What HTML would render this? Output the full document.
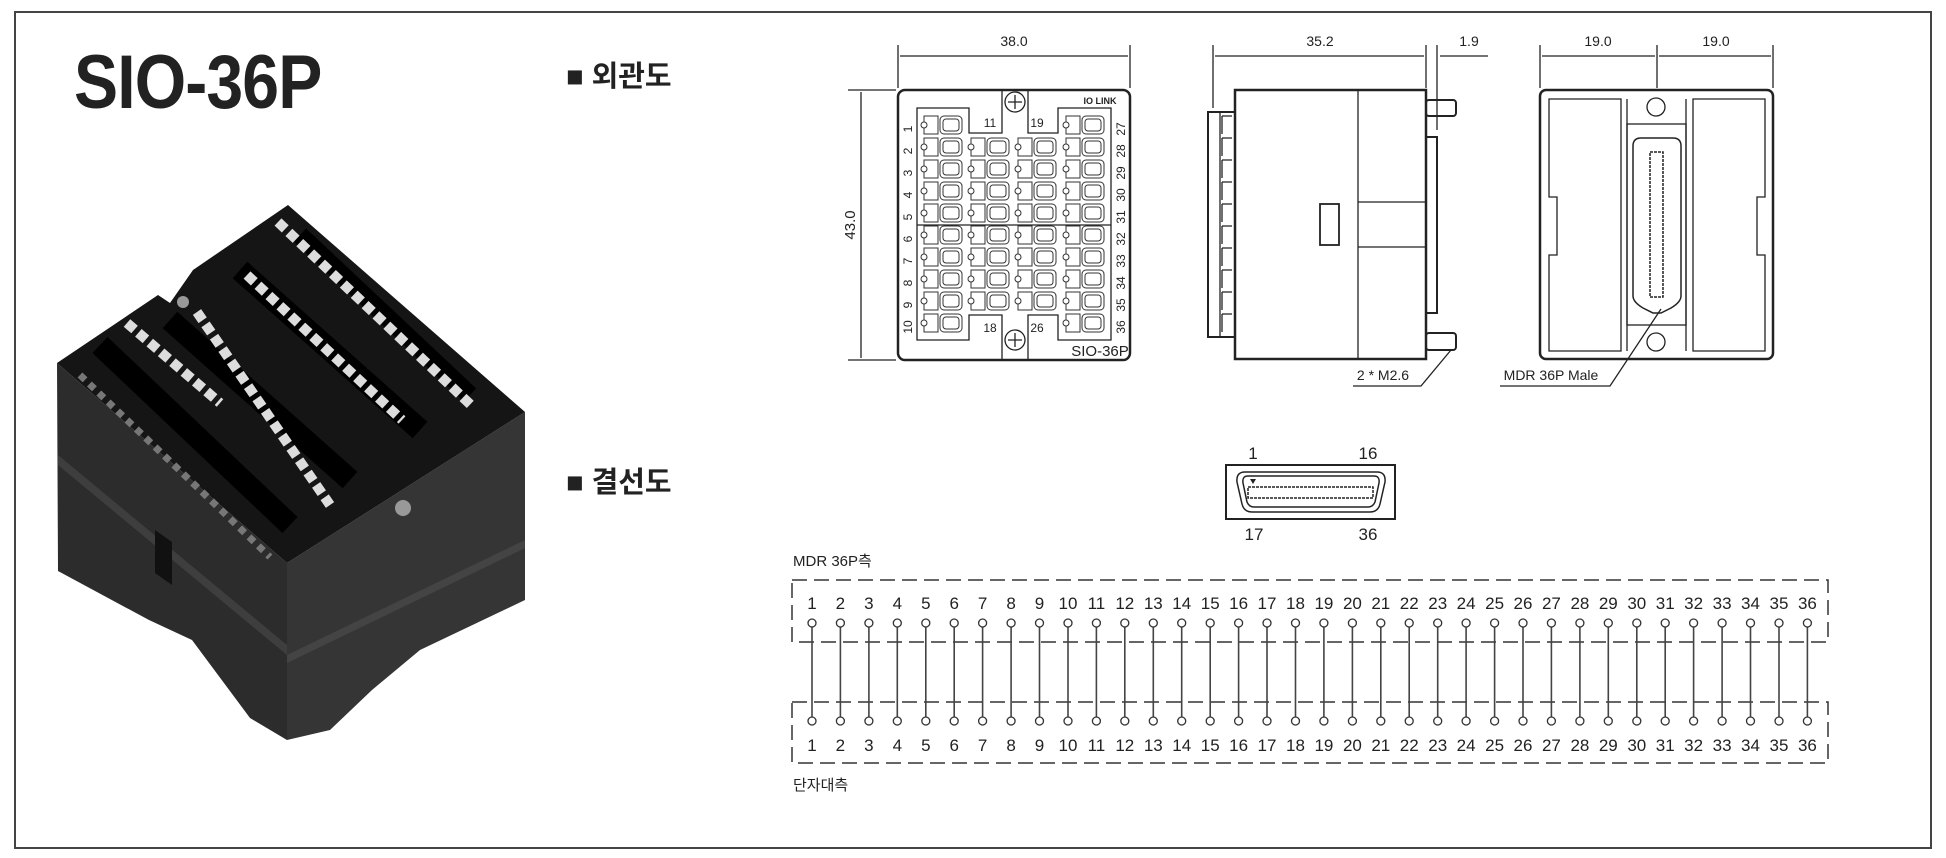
<!DOCTYPE html>
<html><head><meta charset="utf-8">
<style>
html,body{margin:0;padding:0;background:#fff;}
svg{display:block;}
text{font-family:"Liberation Sans","Noto Sans CJK KR",sans-serif;fill:#222;}
</style></head>
<body>
<svg width="1946" height="858" viewBox="0 0 1946 858" xmlns="http://www.w3.org/2000/svg">
<defs>
<g id="cell" fill="none" stroke="#333" stroke-width="1">
<rect x="3" y="0" width="14" height="18"/><circle cx="3" cy="9" r="3" fill="#fff"/>
<rect x="19" y="0" width="22" height="18" rx="4"/><rect x="22" y="3" width="16" height="12" rx="3"/>
</g>
<g id="col10">
<use href="#cell" y="116"/><use href="#cell" y="138"/><use href="#cell" y="160"/><use href="#cell" y="182"/><use href="#cell" y="204"/>
<use href="#cell" y="226"/><use href="#cell" y="248"/><use href="#cell" y="270"/><use href="#cell" y="292"/><use href="#cell" y="314"/>
</g>
<g id="col8">
<use href="#cell" y="138"/><use href="#cell" y="160"/><use href="#cell" y="182"/><use href="#cell" y="204"/>
<use href="#cell" y="226"/><use href="#cell" y="248"/><use href="#cell" y="270"/><use href="#cell" y="292"/>
</g>
<g id="wire">
<line x1="0" y1="627" x2="0" y2="717" stroke="#444" stroke-width="1.6"/>
<circle cx="0" cy="623" r="4" fill="#fff" stroke="#333" stroke-width="1.3"/>
<circle cx="0" cy="721" r="4" fill="#fff" stroke="#333" stroke-width="1.3"/>
</g>
</defs>
<rect x="15" y="12" width="1916" height="836" fill="none" stroke="#444" stroke-width="2"/>
<text x="0" y="108" font-size="76" font-weight="bold" transform="translate(74,0) scale(0.87,1)" style="letter-spacing:-1px">SIO-36P</text>
<text x="566" y="86" font-size="29" font-weight="bold">■ 외관도</text>
<text x="566" y="492" font-size="29" font-weight="bold">■ 결선도</text>

<!-- product photo -->
<g>
<polygon points="57,363 287,563 287,740 250,718 192,640 149,620 58,571" fill="#2c2c2c"/>
<polygon points="58,455 287,645 287,655 58,465" fill="#3e3e3e"/>
<polygon points="287,563 525,412 525,600 420,650 372,690 330,730 287,740" fill="#353535"/>
<polygon points="287,655 525,540 525,548 287,663" fill="#444"/>
<polygon points="155,530 172,542 172,585 155,573" fill="#111"/>
<polygon points="57,363 158,295 170,303 193,270 288,205 525,412 287,563" fill="#151515"/>
<line x1="100" y1="345" x2="290" y2="525" stroke="#000" stroke-width="22"/>
<line x1="170" y1="320" x2="350" y2="480" stroke="#000" stroke-width="22"/>
<line x1="240" y1="270" x2="420" y2="430" stroke="#000" stroke-width="22"/>
<line x1="300" y1="235" x2="470" y2="395" stroke="#000" stroke-width="18"/>
<line x1="278" y1="222" x2="473" y2="407" stroke="#ddd" stroke-width="10" stroke-dasharray="10,5"/>
<line x1="247" y1="275" x2="402" y2="420" stroke="#ddd" stroke-width="10" stroke-dasharray="10,5"/>
<line x1="197" y1="312" x2="330" y2="505" stroke="#ddd" stroke-width="10" stroke-dasharray="10,5"/>
<line x1="127" y1="323" x2="220" y2="403" stroke="#ddd" stroke-width="10" stroke-dasharray="10,5"/>
<line x1="80" y1="375" x2="270" y2="557" stroke="#777" stroke-width="7" stroke-dasharray="7,6"/>
<circle cx="403" cy="508" r="8" fill="#999"/>
<circle cx="183" cy="302" r="6" fill="#999"/>
</g>

<!-- front view -->
<g fill="none" stroke="#222" stroke-width="1.3">
<line x1="898" y1="45" x2="898" y2="88"/><line x1="1130" y1="45" x2="1130" y2="88"/>
<line x1="900" y1="56" x2="1128" y2="56"/>
<line x1="848" y1="90" x2="896" y2="90"/><line x1="848" y1="360" x2="896" y2="360"/>
<line x1="861" y1="92" x2="861" y2="358"/>
<rect x="898" y="90" width="232" height="270" rx="7" stroke-width="2.5"/>
<polygon points="917,108 969,108 969,133 1002,133 1002,90 1028,90 1028,133 1058,133 1058,108 1111,108 1111,340 1058,340 1058,315 1028,315 1028,360 1002,360 1002,315 969,315 969,340 917,340"/>
<line x1="917" y1="225" x2="1111" y2="225"/>
<circle cx="1015" cy="102" r="10"/><circle cx="1015" cy="340" r="10"/>
<path d="M1008 102 h14 M1015 95 v14 M1008 340 h14 M1015 333 v14"/>
</g>
<use href="#col10" x="921"/><use href="#col8" x="968"/><use href="#col8" x="1015"/><use href="#col10" x="1063"/>
<g fill="#222" font-size="14" text-anchor="middle">
<text x="1014" y="46">38.0</text>
<text transform="translate(855,225) rotate(-90)" font-size="15">43.0</text>
<text x="990" y="127" font-size="12" fill="#1a4a8a">11</text><text x="1037" y="127" font-size="12" fill="#1a4a8a">19</text>
<text x="990" y="332" font-size="12">18</text><text x="1037" y="332" font-size="12">26</text>
<text x="1100" y="356" font-size="15">SIO-36P</text>
<text x="1100" y="104" font-size="9" font-weight="bold">IO LINK</text>
</g>
<g fill="#222" font-size="12" text-anchor="middle">
<text transform="translate(912,129) rotate(-90)">1</text>
<text transform="translate(912,151) rotate(-90)">2</text>
<text transform="translate(912,173) rotate(-90)">3</text>
<text transform="translate(912,195) rotate(-90)">4</text>
<text transform="translate(912,217) rotate(-90)">5</text>
<text transform="translate(912,239) rotate(-90)">6</text>
<text transform="translate(912,261) rotate(-90)">7</text>
<text transform="translate(912,283) rotate(-90)">8</text>
<text transform="translate(912,305) rotate(-90)">9</text>
<text transform="translate(912,327) rotate(-90)">10</text>
<text transform="translate(1125,129) rotate(-90)">27</text>
<text transform="translate(1125,151) rotate(-90)">28</text>
<text transform="translate(1125,173) rotate(-90)">29</text>
<text transform="translate(1125,195) rotate(-90)">30</text>
<text transform="translate(1125,217) rotate(-90)">31</text>
<text transform="translate(1125,239) rotate(-90)">32</text>
<text transform="translate(1125,261) rotate(-90)">33</text>
<text transform="translate(1125,283) rotate(-90)">34</text>
<text transform="translate(1125,305) rotate(-90)">35</text>
<text transform="translate(1125,327) rotate(-90)">36</text>
</g>

<!-- side view -->
<g fill="none" stroke="#222" stroke-width="1.3">
<line x1="1213" y1="45" x2="1213" y2="108"/><line x1="1426" y1="45" x2="1426" y2="88"/><line x1="1437" y1="45" x2="1437" y2="130"/>
<line x1="1215" y1="56" x2="1424" y2="56"/><line x1="1440" y1="56" x2="1488" y2="56"/>
<rect x="1235" y="90" width="191" height="269" stroke-width="2.5"/>
<line x1="1358" y1="90" x2="1358" y2="359"/>
<line x1="1358" y1="202" x2="1426" y2="202"/><line x1="1358" y1="247" x2="1426" y2="247"/>
<rect x="1320" y="204" width="19" height="41" stroke-width="1.8"/>
<rect x="1208" y="112" width="27" height="225" stroke-width="2"/>
<line x1="1220" y1="112" x2="1220" y2="337"/>
<path d="M1222 116 h10 M1222 138 h10 M1222 160 h10 M1222 182 h10 M1222 204 h10 M1222 226 h10 M1222 248 h10 M1222 270 h10 M1222 292 h10 M1222 314 h10"/>
<path d="M1222 116 v18 M1222 138 v18 M1222 160 v18 M1222 182 v18 M1222 204 v18 M1222 226 v18 M1222 248 v18 M1222 270 v18 M1222 292 v18 M1222 314 v18"/>
<rect x="1426" y="137" width="11" height="176" stroke-width="2"/>
<rect x="1426" y="100" width="30" height="16" rx="3" stroke-width="2"/>
<rect x="1426" y="333" width="30" height="17" rx="3" stroke-width="2"/>
<polyline points="1353,386 1421,386 1451,350"/>
</g>
<g font-size="14" text-anchor="middle">
<text x="1320" y="46">35.2</text><text x="1469" y="46">1.9</text>
<text x="1383" y="380">2 * M2.6</text>
</g>

<!-- back view -->
<g fill="none" stroke="#222" stroke-width="1.3">
<line x1="1540" y1="45" x2="1540" y2="88"/><line x1="1657" y1="45" x2="1657" y2="88"/><line x1="1773" y1="45" x2="1773" y2="88"/>
<line x1="1542" y1="56" x2="1655" y2="56"/><line x1="1659" y1="56" x2="1771" y2="56"/>
<rect x="1540" y="90" width="233" height="269" rx="6" stroke-width="2.5"/>
<path d="M1549 99 h72 v252 h-72 v-96 h8 v-58 h-8 z"/>
<path d="M1765 99 h-72 v252 h72 v-96 h-8 v-58 h8 z"/>
<rect x="1627" y="124" width="59" height="201"/>
<line x1="1627" y1="99" x2="1627" y2="351"/><line x1="1686" y1="99" x2="1686" y2="351"/>
<circle cx="1656" cy="107" r="9"/><circle cx="1656" cy="342" r="9"/>
<path d="M1641 138 h32 q8 0 8 8 v150 q0 6 -10 12 l-10 5 h-8 l-10 -5 q-10 -6 -10 -12 v-150 q0 -8 8 -8 z" stroke-width="1.5"/>
<rect x="1650" y="152" width="13" height="145" stroke-width="1.5" stroke-dasharray="3,1"/>
<polyline points="1500,386 1610,386 1661,309"/>
</g>
<g font-size="14" text-anchor="middle">
<text x="1598" y="46">19.0</text><text x="1716" y="46">19.0</text>
<text x="1551" y="380">MDR 36P Male</text>
</g>

<!-- MDR connector -->
<g fill="none" stroke="#222" stroke-width="1.5">
<rect x="1226" y="465" width="169" height="54" stroke-width="2"/>
<path d="M1245 472 h132 q9 0 8 10 l-5 22 q-2 8 -10 8 h-118 q-8 0 -10 -8 l-5 -22 q-1 -10 8 -10 z"/>
<path d="M1248 476 h126 q6 0 5 7 l-4 19 q-2 5 -7 5 h-114 q-5 0 -7 -5 l-4 -19 q-1 -7 5 -7 z"/>
<rect x="1248" y="487" width="125" height="11" stroke-dasharray="3,1"/>
</g>
<polygon points="1250,479 1256,479 1253,484" fill="#222"/>
<g font-size="17" text-anchor="middle">
<text x="1253" y="459">1</text><text x="1368" y="459">16</text>
<text x="1254" y="540">17</text><text x="1368" y="540">36</text>
</g>

<!-- wiring -->
<text x="793" y="566" font-size="15">MDR 36P측</text>
<text x="793" y="790" font-size="15">단자대측</text>
<g fill="none" stroke="#333" stroke-width="1.5" stroke-dasharray="15,7">
<rect x="792" y="580" width="1036" height="62"/>
<rect x="792" y="702" width="1036" height="61"/>
</g>
<use href="#wire" x="812.0"/><use href="#wire" x="840.4"/><use href="#wire" x="868.9"/><use href="#wire" x="897.3"/><use href="#wire" x="925.8"/><use href="#wire" x="954.2"/>
<use href="#wire" x="982.6"/><use href="#wire" x="1011.1"/><use href="#wire" x="1039.5"/><use href="#wire" x="1068.0"/><use href="#wire" x="1096.4"/><use href="#wire" x="1124.8"/>
<use href="#wire" x="1153.3"/><use href="#wire" x="1181.7"/><use href="#wire" x="1210.2"/><use href="#wire" x="1238.6"/><use href="#wire" x="1267.0"/><use href="#wire" x="1295.5"/>
<use href="#wire" x="1323.9"/><use href="#wire" x="1352.4"/><use href="#wire" x="1380.8"/><use href="#wire" x="1409.2"/><use href="#wire" x="1437.7"/><use href="#wire" x="1466.1"/>
<use href="#wire" x="1494.6"/><use href="#wire" x="1523.0"/><use href="#wire" x="1551.4"/><use href="#wire" x="1579.9"/><use href="#wire" x="1608.3"/><use href="#wire" x="1636.8"/>
<use href="#wire" x="1665.2"/><use href="#wire" x="1693.6"/><use href="#wire" x="1722.1"/><use href="#wire" x="1750.5"/><use href="#wire" x="1779.0"/><use href="#wire" x="1807.4"/>
<text y="609" font-size="17" text-anchor="middle"><tspan x="812.0">1</tspan><tspan x="840.4">2</tspan><tspan x="868.9">3</tspan><tspan x="897.3">4</tspan><tspan x="925.8">5</tspan><tspan x="954.2">6</tspan><tspan x="982.6">7</tspan><tspan x="1011.1">8</tspan><tspan x="1039.5">9</tspan><tspan x="1068.0">10</tspan><tspan x="1096.4">11</tspan><tspan x="1124.8">12</tspan><tspan x="1153.3">13</tspan><tspan x="1181.7">14</tspan><tspan x="1210.2">15</tspan><tspan x="1238.6">16</tspan><tspan x="1267.0">17</tspan><tspan x="1295.5">18</tspan><tspan x="1323.9">19</tspan><tspan x="1352.4">20</tspan><tspan x="1380.8">21</tspan><tspan x="1409.2">22</tspan><tspan x="1437.7">23</tspan><tspan x="1466.1">24</tspan><tspan x="1494.6">25</tspan><tspan x="1523.0">26</tspan><tspan x="1551.4">27</tspan><tspan x="1579.9">28</tspan><tspan x="1608.3">29</tspan><tspan x="1636.8">30</tspan><tspan x="1665.2">31</tspan><tspan x="1693.6">32</tspan><tspan x="1722.1">33</tspan><tspan x="1750.5">34</tspan><tspan x="1779.0">35</tspan><tspan x="1807.4">36</tspan></text>
<text y="751" font-size="17" text-anchor="middle"><tspan x="812.0">1</tspan><tspan x="840.4">2</tspan><tspan x="868.9">3</tspan><tspan x="897.3">4</tspan><tspan x="925.8">5</tspan><tspan x="954.2">6</tspan><tspan x="982.6">7</tspan><tspan x="1011.1">8</tspan><tspan x="1039.5">9</tspan><tspan x="1068.0">10</tspan><tspan x="1096.4">11</tspan><tspan x="1124.8">12</tspan><tspan x="1153.3">13</tspan><tspan x="1181.7">14</tspan><tspan x="1210.2">15</tspan><tspan x="1238.6">16</tspan><tspan x="1267.0">17</tspan><tspan x="1295.5">18</tspan><tspan x="1323.9">19</tspan><tspan x="1352.4">20</tspan><tspan x="1380.8">21</tspan><tspan x="1409.2">22</tspan><tspan x="1437.7">23</tspan><tspan x="1466.1">24</tspan><tspan x="1494.6">25</tspan><tspan x="1523.0">26</tspan><tspan x="1551.4">27</tspan><tspan x="1579.9">28</tspan><tspan x="1608.3">29</tspan><tspan x="1636.8">30</tspan><tspan x="1665.2">31</tspan><tspan x="1693.6">32</tspan><tspan x="1722.1">33</tspan><tspan x="1750.5">34</tspan><tspan x="1779.0">35</tspan><tspan x="1807.4">36</tspan></text>
</svg>
</body></html>
